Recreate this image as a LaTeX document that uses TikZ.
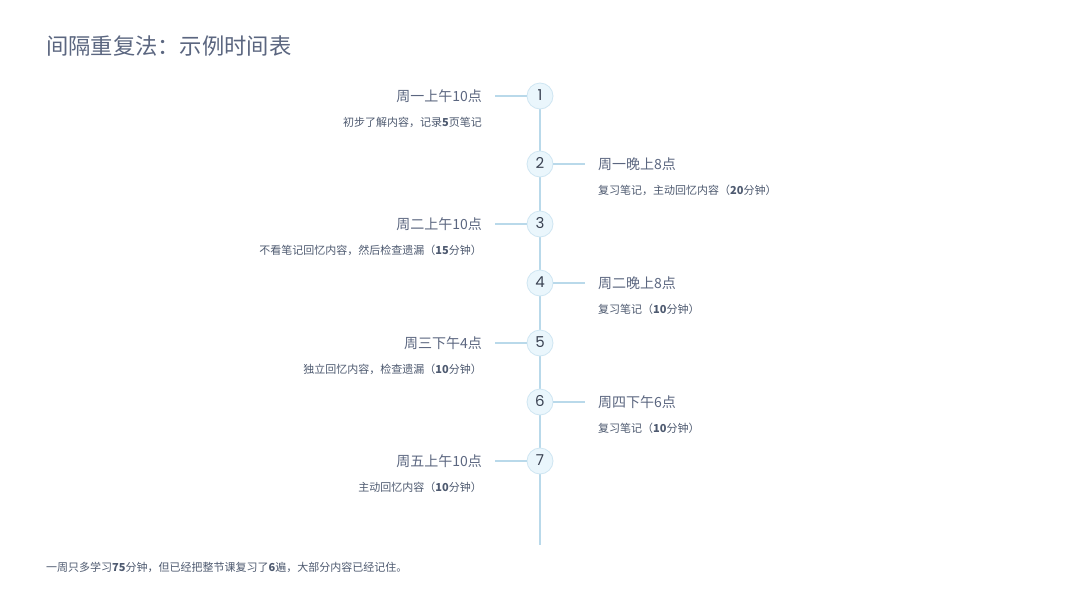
\documentclass[tikz,border=0pt]{standalone}
\usepackage{fontspec}
\setmainfont{Noto Sans CJK SC}
\newfontfamily\numfont{Poppins}
\definecolor{txt}{HTML}{5B6680}
\definecolor{subtxt}{HTML}{4E5A70}
\definecolor{linec}{HTML}{B9D9EA}
\definecolor{circfill}{HTML}{EAF6FC}
\definecolor{circdraw}{HTML}{CFE6F2}
\definecolor{numc}{HTML}{3A4252}
\tikzset{
  x=1pt,y=1pt,
  stepcirc/.style={circle,draw=circdraw,fill=circfill,line width=0.8pt,minimum size=26pt,inner sep=0pt,font=\numfont\fontsize{15}{15}\selectfont,text=numc},
  conn/.style={draw=linec,line width=1.5pt},
  lt/.style={anchor=east,font=\fontsize{14}{16}\selectfont,text=txt,inner sep=0pt},
  rt/.style={anchor=west,font=\fontsize{14}{16}\selectfont,text=txt,inner sep=0pt},
  ls/.style={anchor=east,font=\fontsize{11}{13}\selectfont,text=subtxt,inner sep=0pt},
  rs/.style={anchor=west,font=\fontsize{11}{13}\selectfont,text=subtxt,inner sep=0pt},
}
\begin{document}
\begin{tikzpicture}
\useasboundingbox[fill=white] (0,0) rectangle (1080,-608);
\node[anchor=west,font=\fontsize{22.3}{25}\selectfont,text=txt,inner sep=0pt] (title) at (46,-46) {间隔重复法：示例时间表};
\coordinate (top) at (540,-96);
\coordinate (bot) at (540,-545);
\draw[conn] (top) -- (bot);
% nodes
\node[stepcirc] (c1) at (540,-96) {\raisebox{2pt}{1}};
\node[stepcirc] (c2) at (540,-164) {\raisebox{2pt}{2}};
\node[stepcirc] (c3) at (540,-224) {\raisebox{2pt}{3}};
\node[stepcirc] (c4) at (540,-283) {\raisebox{2pt}{4}};
\node[stepcirc] (c5) at (540,-343) {\raisebox{2pt}{5}};
\node[stepcirc] (c6) at (540,-402) {\raisebox{2pt}{6}};
\node[stepcirc] (c7) at (540,-461) {\raisebox{2pt}{7}};
% left items
\coordinate (l1) at (495,-96);
\node[lt] (t1) at (482,-96) {周一上午10点};
\node[ls] (s1) at (482,-122) {初步了解内容，记录\textbf{5}页笔记};
\draw[conn] (l1) -- (c1);
\coordinate (r2) at (585,-164);
\node[rt] (t2) at (598,-164) {周一晚上8点};
\node[rs] (s2) at (598,-190) {复习笔记，主动回忆内容（\textbf{20}分钟）};
\draw[conn] (c2) -- (r2);
\coordinate (l3) at (495,-224);
\node[lt] (t3) at (482,-224) {周二上午10点};
\node[ls] (s3) at (482,-250) {不看笔记回忆内容，然后检查遗漏（\textbf{15}分钟）};
\draw[conn] (l3) -- (c3);
\coordinate (r4) at (585,-283);
\node[rt] (t4) at (598,-283) {周二晚上8点};
\node[rs] (s4) at (598,-309) {复习笔记（\textbf{10}分钟）};
\draw[conn] (c4) -- (r4);
\coordinate (l5) at (495,-343);
\node[lt] (t5) at (482,-343) {周三下午4点};
\node[ls] (s5) at (482,-369) {独立回忆内容，检查遗漏（\textbf{10}分钟）};
\draw[conn] (l5) -- (c5);
\coordinate (r6) at (585,-402);
\node[rt] (t6) at (598,-402) {周四下午6点};
\node[rs] (s6) at (598,-428) {复习笔记（\textbf{10}分钟）};
\draw[conn] (c6) -- (r6);
\coordinate (l7) at (495,-461);
\node[lt] (t7) at (482,-461) {周五上午10点};
\node[ls] (s7) at (482,-487) {主动回忆内容（\textbf{10}分钟）};
\draw[conn] (l7) -- (c7);
% footer
\node[anchor=west,font=\fontsize{11}{13}\selectfont,text=subtxt,inner sep=0pt] (foot) at (46,-567) {一周只多学习\textbf{75}分钟，但已经把整节课复习了\textbf{6}遍，大部分内容已经记住。};
\end{tikzpicture}
\end{document}
